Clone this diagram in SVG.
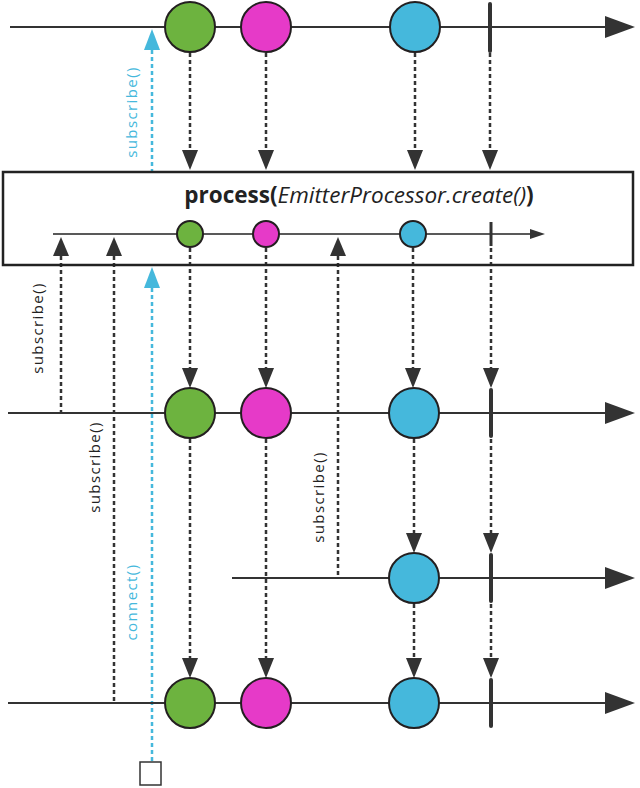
<svg xmlns="http://www.w3.org/2000/svg" width="640" height="788" viewBox="0 0 640 788">
<defs>
<style>
.tl{stroke:#333;stroke-width:2;fill:none}
.dash{stroke:#333;stroke-width:2.5;stroke-dasharray:4 3;fill:none}
.bdash{stroke:#45b8dc;stroke-width:2.5;stroke-dasharray:4 3;fill:none}
.bar{stroke:#333;stroke-width:4;stroke-linecap:round}
.sbar{stroke:#333;stroke-width:3}
.g{fill:#6db33f;stroke:#231f20;stroke-width:2}
.m{fill:#e63ac8;stroke:#231f20;stroke-width:2}
.b{fill:#45b8dc;stroke:#231f20;stroke-width:2}
.ah{fill:#333}
.bah{fill:#45b8dc}
.lbl{font-family:'Open Sans','Noto Sans',sans-serif;font-size:15px;fill:#222;letter-spacing:1.4px}
.blbl{font-family:'Open Sans','Noto Sans',sans-serif;font-size:15px;fill:#45b8dc;letter-spacing:1.4px}
.title{font-family:'Open Sans','Noto Sans',sans-serif;font-size:22.5px;fill:#222}
</style>
</defs>
<rect width="640" height="788" fill="#fff"/>
<g id="connectors">
<line class="dash" x1="190" y1="53" x2="190" y2="150"/>
<polygon class="ah" points="182,150 198,150 190,170"/>
<line class="dash" x1="266" y1="53" x2="266" y2="150"/>
<polygon class="ah" points="258,150 274,150 266,170"/>
<line class="dash" x1="415" y1="53" x2="415" y2="150"/>
<polygon class="ah" points="407,150 423,150 415,170"/>
<line class="dash" x1="490" y1="53" x2="490" y2="150"/>
<polygon class="ah" points="482,150 498,150 490,170"/>
<line class="dash" x1="190" y1="248" x2="190" y2="368"/>
<polygon class="ah" points="182,368 198,368 190,388"/>
<line class="dash" x1="266" y1="248" x2="266" y2="368"/>
<polygon class="ah" points="258,368 274,368 266,388"/>
<line class="dash" x1="413" y1="248" x2="413" y2="368"/>
<polygon class="ah" points="405,368 421,368 413,388"/>
<line class="dash" x1="491" y1="248" x2="491" y2="368"/>
<polygon class="ah" points="483,368 499,368 491,388"/>
<line class="dash" x1="414" y1="439" x2="414" y2="533"/>
<polygon class="ah" points="406,533 422,533 414,553"/>
<line class="dash" x1="491" y1="439" x2="491" y2="533"/>
<polygon class="ah" points="483,533 499,533 491,553"/>
<line class="dash" x1="190" y1="439" x2="190" y2="658"/>
<polygon class="ah" points="182,658 198,658 190,678"/>
<line class="dash" x1="266" y1="439" x2="266" y2="658"/>
<polygon class="ah" points="258,658 274,658 266,678"/>
<line class="dash" x1="414" y1="604" x2="414" y2="658"/>
<polygon class="ah" points="406,658 422,658 414,678"/>
<line class="dash" x1="491" y1="604" x2="491" y2="658"/>
<polygon class="ah" points="483,658 499,658 491,678"/>
<line class="dash" x1="61" y1="256" x2="61" y2="412"/>
<polygon class="ah" points="53,256 69,256 61,237"/>
<line class="dash" x1="114" y1="256" x2="114" y2="702"/>
<polygon class="ah" points="106,256 122,256 114,237"/>
<line class="dash" x1="338" y1="256" x2="338" y2="577"/>
<polygon class="ah" points="330,256 346,256 338,237"/>
<line class="bdash" x1="152" y1="50" x2="152" y2="174"/>
<polygon class="bah" points="144,50 160,50 152,29"/>
<line class="bdash" x1="152" y1="288" x2="152" y2="762"/>
<polygon class="bah" points="144,288 160,288 152,267"/>
</g>
<g id="line1">
<line class="tl" x1="10" y1="27" x2="608" y2="27"/>
<polygon class="ah" points="605,16 635,27 605,38"/>
<circle class="g" cx="190" cy="27" r="25"/>
<circle class="m" cx="266" cy="27" r="25"/>
<circle class="b" cx="415" cy="27" r="25"/>
<line class="bar" x1="490" y1="4" x2="490" y2="51"/>
</g>
<g id="box">
<rect x="3" y="172" width="630" height="93" fill="none" stroke="#222" stroke-width="2.5"/>
<text class="title" x="359" y="203" text-anchor="middle"><tspan font-weight="bold">process(</tspan><tspan font-style="italic">EmitterProcessor.create()</tspan><tspan font-weight="bold">)</tspan></text>
<line x1="53" y1="234" x2="532" y2="234" stroke="#222" stroke-width="1.5"/>
<polygon class="ah" points="530,229 545,234 530,239"/>
<circle class="g" cx="190" cy="234" r="13"/>
<circle class="m" cx="266" cy="234" r="13"/>
<circle class="b" cx="413" cy="234" r="13"/>
<line class="sbar" x1="491" y1="222" x2="491" y2="246"/>
</g>
<g id="line2">
<line class="tl" x1="8" y1="413" x2="608" y2="413"/>
<polygon class="ah" points="605,402 635,413 605,424"/>
<circle class="g" cx="190" cy="413" r="25"/>
<circle class="m" cx="266" cy="413" r="25"/>
<circle class="b" cx="414" cy="413" r="25"/>
<line class="bar" x1="491" y1="390" x2="491" y2="436"/>
</g>
<g id="line3">
<line class="tl" x1="232" y1="578" x2="608" y2="578"/>
<polygon class="ah" points="605,567 635,578 605,589"/>
<circle class="b" cx="414" cy="578" r="25"/>
<line class="bar" x1="491" y1="555" x2="491" y2="601"/>
</g>
<g id="line4">
<line class="tl" x1="8" y1="703" x2="608" y2="703"/>
<polygon class="ah" points="605,692 635,703 605,714"/>
<circle class="g" cx="190" cy="703" r="25"/>
<circle class="m" cx="266" cy="703" r="25"/>
<circle class="b" cx="414" cy="703" r="25"/>
<line class="bar" x1="491" y1="680" x2="491" y2="726"/>
</g>
<g id="source">
<rect x="140" y="762" width="21" height="23" fill="#fff" stroke="#333" stroke-width="1.5"/>
</g>
<g id="labels">
<text class="blbl" transform="translate(137,112) rotate(-90)" text-anchor="middle">subscribe()</text>
<text class="lbl" transform="translate(43,328) rotate(-90)" text-anchor="middle">subscribe()</text>
<text class="lbl" transform="translate(100,467) rotate(-90)" text-anchor="middle">subscribe()</text>
<text class="lbl" transform="translate(324,497) rotate(-90)" text-anchor="middle">subscribe()</text>
<text class="blbl" transform="translate(137,602) rotate(-90)" text-anchor="middle">connect()</text>
</g>
</svg>
